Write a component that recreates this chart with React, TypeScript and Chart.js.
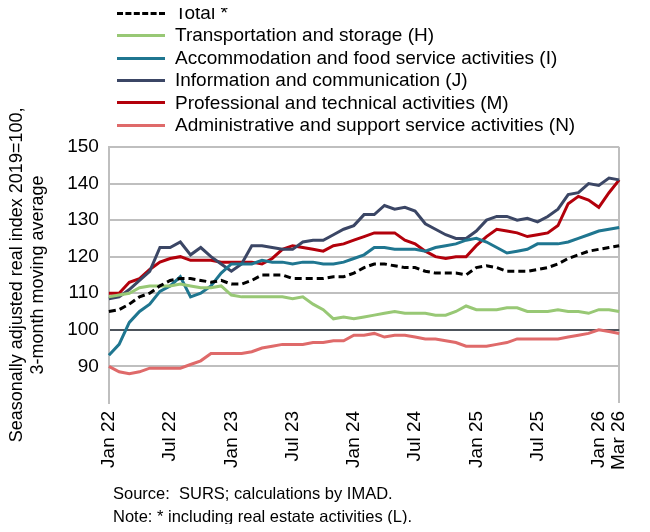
import React, { useEffect, useRef } from "react";
import { Chart, registerables } from "chart.js";
Chart.register(...registerables);

const MONTHS = ["Jan", "Feb", "Mar", "Apr", "May", "Jun", "Jul", "Aug", "Sep", "Oct", "Nov", "Dec"];
const categories: string[] = [];
for (let y = 22; y <= 26; y++) for (let m = 0; m < 12; m++) if (!(y === 26 && m > 2)) categories.push(`${MONTHS[m]} ${y}`);

const total = [105,105.5,107,109,110,112,113.5,114,114,113.5,113,113.5,112.5,112.5,113.5,115,115,115,114,114,114,114,114.5,114.5,115.5,117,118,118,117.5,117,117,116,115.5,115.5,115.5,115,117,117.5,117,116,116,116,116.5,117,118,119.5,120.5,121.5,122,122.5,123];
const transport = [109,109.5,110,111.5,112,112,112,112.5,112,111.5,111.5,112,109.5,109,109,109,109,109,108.5,109,107,105.5,103,103.5,103,103.5,104,104.5,105,104.5,104.5,104.5,104,104,105,106.5,105.5,105.5,105.5,106,106,105,105,105,105.5,105,105,104.5,105.5,105.5,105];
const accommodation = [93,96,102,105,107,110.5,112,114.5,109,110,112,115.5,118,118,118,119,118.5,118.5,118,118.5,118.5,118,118,118.5,119.5,120.5,122.5,122.5,122,122,122,121.5,122.5,123,123.5,124.5,125,124,122.5,121,121.5,122,123.5,123.5,123.5,124,125,126,127,127.5,128];
const information = [108.5,109,111,113.5,116,122.5,122.5,124,120.5,122.5,120,118,116,118,123,123,122.5,122,122,124,124.5,124.5,126,127.5,128.5,131.5,131.5,134,133,133.5,132.5,129,127.5,126,125,125,127,130,131,131,130,130.5,129.5,131,133,137,137.5,140,139.5,141.5,141];
const professional = [110,110,113,114,116.5,118.5,119.5,120,119,119,119,118.5,118.5,118.5,118.5,118,119.5,122,123,122.5,122,121.5,123,123.5,124.5,125.5,126.5,126.5,126.5,124.5,123.5,121.5,120,119.5,120,120,123,125.5,127.5,127,126.5,125.5,126,126.5,128.5,134.5,136.5,135.5,133.5,137.5,141];
const administrative = [90,88.5,88,88.5,89.5,89.5,89.5,89.5,90.5,91.5,93.5,93.5,93.5,93.5,94,95,95.5,96,96,96,96.5,96.5,97,97,98.5,98.5,99,98,98.5,98.5,98,97.5,97.5,97,96.5,95.5,95.5,95.5,96,96.5,97.5,97.5,97.5,97.5,97.5,98,98.5,99,100,99.5,99];

const seriesNames = [
  "Total *",
  "Transportation and storage (H)",
  "Accommodation and food service activities (I)",
  "Information and communication (J)",
  "Professional and technical activities (M)",
  "Administrative and support service activities (N)",
];
const seriesData = [total, transport, accommodation, information, professional, administrative];
const colors = ["#000000", "#98c875", "#1f7690", "#3b4665", "#b3000b", "#df6a6a"];
const yTicks = [90, 100, 110, 120, 130, 140, 150];

const FONT = "'Liberation Sans', Arial, sans-serif";

export default function App() {
  const ref = useRef<HTMLCanvasElement>(null);
  useEffect(() => {
    if (!ref.current) return;
    const chart = new Chart(ref.current, {
      type: "line",
      data: {
        labels: categories,
        datasets: seriesData.map((d, i) => ({
          label: seriesNames[i],
          data: d,
          borderColor: colors[i],
          borderWidth: 3,
          borderDash: i === 0 ? [7, 4] : [],
          pointRadius: 0,
          tension: 0,
          fill: false,
        })),
      },
      options: {
        animation: false,
        responsive: false,
        layout: { padding: { top: 147, right: 12, bottom: 54, left: 6 } },
        plugins: { legend: { display: false }, tooltip: { enabled: false } },
        scales: {
          x: {
            offset: false,
            grid: {
              drawTicks: false,
              color: (c: any) => (c.index === categories.length - 1 ? "#bfbfbf" : "transparent"),
              lineWidth: 2,
            },
            border: { display: false },
            ticks: {
              autoSkip: false,
              maxRotation: 90,
              minRotation: 90,
              padding: 8,
              color: "#000",
              font: { family: FONT, size: 19 },
              callback: (_v: any, i: number) => (i % 6 === 0 || i === categories.length - 1 ? categories[i] : ""),
            },
          },
          y: {
            min: 80,
            max: 150,
            afterBuildTicks: (s: any) => { s.ticks = [80, ...yTicks].map((v) => ({ value: v })); },
            grid: {
              drawTicks: false,
              color: (c: any) => (c.tick.value === 100 ? "#4d535b" : c.tick.value === 80 ? "transparent" : "#bfbfbf"),
              lineWidth: 2,
            },
            border: { display: true, color: "#bfbfbf", width: 2 },
            ticks: {
              padding: 10,
              color: "#000",
              font: { family: FONT, size: 19 },
              callback: (v: any) => (v === 80 ? "" : String(v)),
            },
            title: {
              display: true,
              text: ["Seasonally adjusted real index 2019=100,", "3-month moving average"],
              color: "#000",
              font: { family: FONT, size: 18, lineHeight: 1.2 },
              padding: { top: 0, bottom: 8 },
            },
          },
        },
      },
    });
    return () => chart.destroy();
  }, []);

  return (
    <div style={{ position: "relative", width: 650, height: 532, margin: -8, overflow: "hidden", fontFamily: FONT, color: "#000" }}>
      <canvas ref={ref} width={650} height={532} style={{ position: "absolute", left: 0, top: 0 }} />
      <div style={{ position: "absolute", left: 117, top: 2, fontSize: 19, lineHeight: "22.4px" }}>
        {seriesNames.map((n, i) => (
          <div key={n} style={{ display: "flex", alignItems: "center", whiteSpace: "nowrap" }}>
            <span style={{ display: "inline-block", width: 48, marginRight: 10, borderTop: `3px ${i === 0 ? "dashed" : "solid"} ${colors[i]}` }} />
            {n}
          </div>
        ))}
      </div>
      <div style={{ position: "absolute", left: 113, top: 482, fontSize: 16.5, lineHeight: "23px", whiteSpace: "nowrap" }}>
        <div>Source:&nbsp; SURS; calculations by IMAD.</div>
        <div>Note: * including real estate activities (L).</div>
      </div>
    </div>
  );
}
